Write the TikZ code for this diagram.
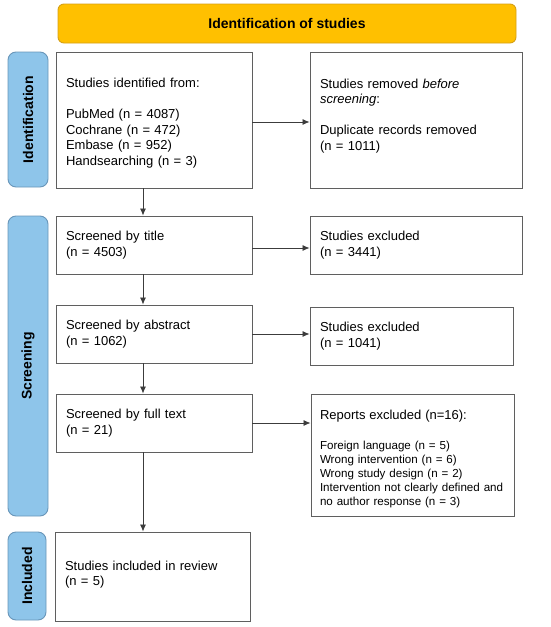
\documentclass[tikz,border=0pt]{standalone}
\usepackage{fontspec}
\setmainfont{Liberation Sans}
\usetikzlibrary{arrows.meta,calc}
\definecolor{bannerfill}{RGB}{255,192,0}
\definecolor{bannerdraw}{RGB}{214,160,20}
\definecolor{tabfill}{RGB}{142,197,234}
\definecolor{tabdraw}{RGB}{105,150,185}
\definecolor{boxline}{RGB}{95,95,95}
\definecolor{arrowline}{RGB}{60,60,60}
\begin{document}
\begin{tikzpicture}[x=1pt,y=-1pt,
  box/.style={draw=boxline, line width=0.9pt, rectangle, align=left, inner xsep=10pt, inner ysep=0pt,
    font=\fontsize{13}{15.5}\selectfont, anchor=center, text=black},
  tab/.style={draw=tabdraw, fill=tabfill, line width=0.9pt, rounded corners=8pt, rectangle, inner sep=0pt},
  tablabel/.style={rotate=90, font=\fontsize{14}{16}\selectfont\bfseries, inner sep=0pt},
  arr/.style={draw=arrowline, line width=0.8pt, -{Latex[length=7pt,width=6pt]}}]
\useasboundingbox (0,0) rectangle (550,627);

% banner
\node[draw=bannerdraw, fill=bannerfill, line width=0.9pt, rounded corners=6pt, minimum width=458pt, minimum height=39pt, inner sep=0pt,
  font=\fontsize{14}{16}\selectfont\bfseries] (banner) at (287,23.5) {Identification of studies};

% side tabs
\node[tab, minimum width=40pt, minimum height=135pt] (tabid) at (28,119.5) {};
\node[tablabel] (tabidl) at (tabid.center) {Identification};
\node[tab, minimum width=40pt, minimum height=300pt] (tabsc) at (28,366) {};
\node[tablabel] (tabscl) at (tabsc.center) {Screening};
\node[tab, minimum width=38pt, minimum height=88pt] (tabin) at (27,576) {};
\node[tablabel] (tabinl) at (tabin.center) {Included};

% left column
\node[box, text width=176pt, minimum height=136pt] (b1) at (154,120)
  {\mbox{}\\[0pt]Studies identified from:\\[15.5pt]PubMed (n = 4087)\\Cochrane (n = 472)\\Embase (n = 952)\\Handsearching (n = 3)};
\node[box, text width=176pt, minimum height=58pt] (b2) at (154,245)
  {Screened by title\\(n = 4503)};
\node[box, text width=176pt, minimum height=58pt] (b3) at (154,334)
  {Screened by abstract\\(n = 1062)};
\node[box, text width=176pt, minimum height=58pt] (b4) at (154,423)
  {Screened by full text\\(n = 21)};
\node[box, text width=175pt, minimum height=89pt] (b5) at (152.5,576.5)
  {Studies included in review\\(n = 5)\\[-9pt]\mbox{}};

% right column
\node[box, text width=192pt, minimum height=136pt] (r1) at (416,120)
  {Studies removed \textit{before}\\\textit{screening}:\\[15.5pt]Duplicate records removed\\(n = 1011)\\[-5pt]\mbox{}};
\node[box, text width=192pt, minimum height=58pt] (r2) at (416,245)
  {Studies excluded\\(n = 3441)};
\node[box, text width=183pt, minimum height=58pt] (r3) at (411.5,336)
  {Studies excluded\\(n = 1041)};
\node[box, text width=187pt, inner xsep=8pt, minimum height=122pt, font=\fontsize{11.6}{14}\selectfont] (r4) at (412.5,455)
  {\mbox{}\\[4pt]\hspace*{1pt}{\fontsize{13}{15}\selectfont Reports excluded (n=16):}\\[16pt]\hspace*{1pt}Foreign language (n = 5)\\\hspace*{1pt}Wrong intervention (n = 6)\\\hspace*{1pt}Wrong study design (n = 2)\\\hspace*{1pt}Intervention not clearly defined and\\\hspace*{1pt}no author response (n = 3)};

% connectors
\draw[arr] ([xshift=-11pt]b1.south) -- ([xshift=-11pt]b2.north);
\draw[arr] ([xshift=-11pt]b2.south) -- ([xshift=-11pt]b3.north);
\draw[arr] ([xshift=-11pt]b3.south) -- ([xshift=-11pt]b4.north);
\draw[arr] ([xshift=-11pt]b4.south) -- ([xshift=-9.5pt]b5.north);
\draw[arr] ([yshift=-2pt]b1.east) -- ([yshift=-2pt]b1.east -| r1.west);
\draw[arr] ([yshift=-3pt]b2.east) -- ([yshift=-3pt]b2.east -| r2.west);
\draw[arr] (b3.east) -- (b3.east -| r3.west);
\draw[arr] (b4.east) -- (b4.east -| r4.west);
\end{tikzpicture}
\end{document}
